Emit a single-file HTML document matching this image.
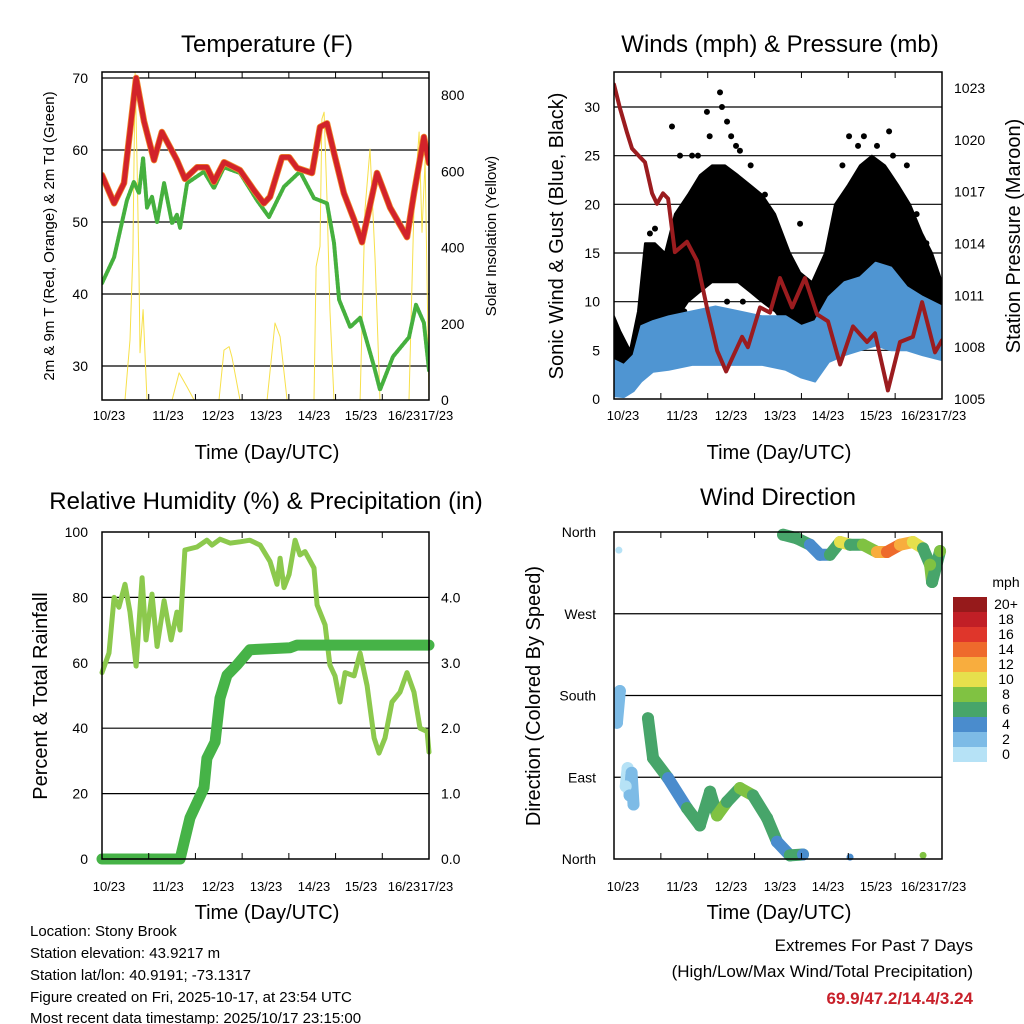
<!DOCTYPE html>
<html><head><meta charset="utf-8">
<style>
html,body{margin:0;padding:0;background:#fff;}
svg{display:block;font-family:"Liberation Sans",Arial,sans-serif;}
</style></head>
<body>
<svg id="chart" width="1024" height="1024" viewBox="0 0 1024 1024" xmlns="http://www.w3.org/2000/svg">
<rect x="0" y="0" width="1024" height="1024" fill="#fff"/>
<g id="layer"></g>
<text x="267" y="52" font-size="24" text-anchor="middle">Temperature (F)</text>
<text x="780" y="52" font-size="24" text-anchor="middle">Winds (mph) &amp; Pressure (mb)</text>
<text x="266" y="509" font-size="24" text-anchor="middle">Relative Humidity (%) &amp; Precipitation (in)</text>
<text x="778" y="505" font-size="24" text-anchor="middle">Wind Direction</text>
<text transform="translate(54,236) rotate(-90)" font-size="15" text-anchor="middle">2m &amp; 9m T (Red, Orange) &amp; 2m Td (Green)</text>
<text transform="translate(496,236) rotate(-90)" font-size="15" text-anchor="middle">Solar Insolation (Yellow)</text>
<text transform="translate(563,236) rotate(-90)" font-size="20" text-anchor="middle">Sonic Wind &amp; Gust (Blue, Black)</text>
<text transform="translate(1020,236) rotate(-90)" font-size="20" text-anchor="middle">Station Pressure (Maroon)</text>
<text transform="translate(47,696) rotate(-90)" font-size="20" text-anchor="middle">Percent &amp; Total Rainfall</text>
<text transform="translate(540,696) rotate(-90)" font-size="20" text-anchor="middle">Direction (Colored By Speed)</text>
<text x="267" y="459" font-size="20" text-anchor="middle">Time (Day/UTC)</text>
<text x="779" y="459" font-size="20" text-anchor="middle">Time (Day/UTC)</text>
<text x="267" y="919" font-size="20" text-anchor="middle">Time (Day/UTC)</text>
<text x="779" y="919" font-size="20" text-anchor="middle">Time (Day/UTC)</text>
<g font-size="15">
<text x="30" y="936">Location: Stony Brook</text>
<text x="30" y="958">Station elevation: 43.9217 m</text>
<text x="30" y="980">Station lat/lon: 40.9191; -73.1317</text>
<text x="30" y="1002">Figure created on Fri, 2025-10-17, at 23:54 UTC</text>
<text x="30" y="1023">Most recent data timestamp: 2025/10/17 23:15:00</text>
</g>
<text x="973" y="951" font-size="17" text-anchor="end">Extremes For Past 7 Days</text>
<text x="973" y="977" font-size="17" text-anchor="end">(High/Low/Max Wind/Total Precipitation)</text>
<text x="973" y="1004" font-size="17" font-weight="bold" fill="#c8202a" text-anchor="end">69.9/47.2/14.4/3.24</text>
</svg>
<script>
// ---------- DATA ----------
const dayLabels = ["10/23","11/23","12/23","13/23","14/23","15/23","16/23","17/23"];
const tempHours = [0,6.2,11.3,17.5,21.6,26.7,30.8,38.5,42.6,48.8,53.9,57.5,62.7,70.9,78.1,83.2,86.3,92.5,96.1,100.2,107.9,112,115.6,119.2,124.3,129.5,133.6,141.3,148,156.7,160.3,165.4,168];
const tempF = [56.5,52.6,55.4,70,64,58.6,62.5,58.6,56,57.6,57.6,55.6,58.3,57.2,54.4,52.6,53.5,59,59,57.5,56.8,63.2,63.7,59.6,54,50.3,47.2,56.8,52,47.9,54,61.8,58.2];
const dewHours = [0,6.2,12.8,16.4,19,21.1,23.1,25.7,28.3,31.9,36,38.5,40.1,43.7,52.4,57.5,62.7,70.9,79.7,85.8,93.5,101.7,108.9,115.6,119.2,121.8,127.5,132.6,139.8,142.8,149.5,157.7,161.3,165.4,168];
const dewF = [41.5,45.1,53,55.6,54,58.9,52,53.5,50,55.4,49.8,51,49.2,55.4,57,54.7,57.6,56.8,53,50.7,54.9,57,53.3,52.6,47.1,39.2,35.4,36.7,29.9,26.7,31.3,34,38.5,36,29.4];
const solarHours = [11.8,14.4,15.9,17,18,19,19.5,21.1,23.1,36,39.6,43.7,47.3,60.1,62.7,65.3,66.8,70.9,84.8,88.9,91.5,95.1,108.9,110,112,113,114.1,115.6,117.1,119.2,132.6,135.1,137.7,140.3,142.8,157.7,160.3,162.9,164.4,166,168];
const solarWm2 = [0,158,386,860,630,334,124,237,0,0,71,34,0,0,131,140,112,0,0,202,166,0,0,350,403,737,755,526,237,0,0,500,658,368,0,0,508,703,440,630,0];
const presHours = [0,3.1,6.7,9.2,13.3,15.9,19.5,22,25.1,27.7,31.2,37.4,42.5,47.6,52.8,57.4,65.6,68.6,74.8,79.9,85,91.2,97.8,104,109.6,115.8,122.4,129.6,133.7,140.3,146.5,153.1,157.8,164.4,168];
const presMb = [1023.2,1021.8,1020.4,1019.5,1019,1018.7,1016.9,1016.3,1016.9,1016.6,1013.5,1014.1,1013,1010.3,1007.8,1006.6,1008.6,1008,1010.3,1010,1012,1010.3,1012,1009.9,1009.5,1007,1009.2,1008.3,1008.8,1005.5,1008.3,1008.6,1010.6,1007.7,1008.4];
const gustHours = [0,3.1,8.2,12.3,15.9,21,26.1,31.2,37.9,44,50.2,56.9,63.5,69.7,75.8,82.5,90.1,95.3,101.4,108.1,113.2,119.9,126,132.1,138.8,145.5,151.6,157.8,162.9,168];
const gustLow = [2,1.5,1.5,3,5,5,6,8,10,11,12,12,12,11,10,9,7,5,4,6,9,11,12,13,13,12,10,9,7,6];
const gustHigh = [8.5,7,5,9,16,16,15,19,21,23,24,24,23,22,21,19,15,13,12,15,20,22,24,25,24,22,20,17,15,12];
const gustOutHours = [29.7,33.8,47.6,54.3,55.3,57.9,62.5,43,64.5,77.3,95.3,120.4,134.7,140.9,142.9,78.9,57.9,44,18.4,21,49,60,70,85,125,130,150,155,36,40,66,88,117,128,146,160];
const gustOutMph = [28,25,29.5,31.5,30,28.5,26,25,25.5,21,18,27,26,27.5,25,8,10,12,17,17.5,27,27,24,17,26,11,24,19,9,25,10,5,24,27,9,16];
const windHours = [0,5,10,14,20,28,40,52,64,76,88,96,103,110,118,126,134,142,150,158,168];
const windLow = [0.3,0.2,0.8,1.8,2.8,3,3.5,3.5,3.5,3.5,3,2.2,1.8,3.8,4.5,5,5.5,5,5,4.5,4];
const windHigh = [4,3.5,4.5,7.5,8,8.5,9,9.5,9,8.5,8.5,7.5,8,10.5,12,12.5,14,13.5,11.5,10.5,9.5];
const rhHours = [0,3.6,6.2,8.7,11.8,14.4,17.5,20.6,22.6,25.7,28.3,31.9,35.5,38.5,40.1,42.6,48.8,53.9,56.5,60.6,65.8,70.9,76,81.2,86.3,89.9,91.5,93.5,96.1,99.2,101.7,104.3,108.9,110.5,114.6,117.1,119.7,122.3,124.9,129.5,132.6,136.2,139.8,142.3,145.4,149,153.1,156.7,160.3,163.4,167,168];
const rhPct = [57,63,80,77,84,75.5,59,86,67,81,65,79,67,75.5,70,94.5,95.4,97.5,96,97.8,96.6,97,97.5,96,91,84,92,83,87,97.5,93,94,89,77.7,71.6,59.3,56,48,57,56,63,53,37,32.4,37,48,51,57,51,40,39,32.7];
const rainHours = [0,40.1,45.2,52.4,53.9,58.1,60.6,64.2,69.4,76,96.6,100.2,168];
const rainIn = [0,0,0.63,1.09,1.54,1.79,2.46,2.81,2.97,3.2,3.23,3.27,3.27];
const dirSEHours = [0,1.5,3,6,7,8,9,10,17.4,20,27.7,37.4,44,49.2,52.8,57.9,64.5,71.2,78.4,83.5,90.1,96.8];
const dirSEDeg = [170,150,185,80,100,70,95,60,155,111,89,56,37,74,48,63,78,70,45,19,4,5];
const dirSESpd = [2,2,2,0,0,1,2,2,6,6,4,6,6,6,8,6,8,6,6,4,6,4];
const dirNHours = [86.6,93.7,100.4,105.5,110.6,115.8,120.9,127.5,134.7,139.8,146.5,153.1,158.3,161.9,162.9,167];
const dirNDeg = [357,353,346,335,335,349,346,346,338,338,346,349,342,324,305,339];
const dirNSpd = [6,6,4,4,6,10,6,8,12,14,12,10,6,8,6,8];
const dirLoneHours = [120.9,158.3,2.5];
const dirLoneDeg = [2,4,340];
const dirLoneSpd = [4,8,0];
const tempTicks = [30,40,50,60,70];
const solarTicks = [0,200,400,600,800];
const windTicks = [0,5,10,15,20,25,30];
const presTicks = [1005,1008,1011,1014,1017,1020,1023];
const rhTicks = [0,20,40,60,80,100];
const rainTicks = ["0.0","1.0","2.0","3.0","4.0"];
const dirTicks = ["North","East","South","West","North"];
const speedBins = ["0","2","4","6","8","10","12","14","16","18","20+"];
const speedColors = ["#b6e2f6","#7dbbe6","#4a8ccd","#47a56a","#80c242","#e6e04c","#f8ad3e","#ee6a2c","#df362b","#c11f26","#961a1b"];

// ---------- HELPERS ----------
const NS="http://www.w3.org/2000/svg";
const layer=document.getElementById('layer');
function mk(tag,attrs,parent){const e=document.createElementNS(NS,tag);for(const k in attrs)e.setAttribute(k,attrs[k]);(parent||layer).appendChild(e);return e;}
function panelX(x0,x1){return h=>x0+(h/168)*(x1-x0);}
function lin(v0,v1,p0,p1){return v=>p0+(v-v0)/(v1-v0)*(p1-p0);}
function pts(hs,vs,sx,sy){return hs.map((h,i)=>sx(h).toFixed(1)+","+sy(vs[i]).toFixed(1)).join(" ");}
function clip(id,x,y,w,h){const c=mk('clipPath',{id:id});mk('rect',{x:x,y:y,width:w,height:h},c);return "url(#"+id+")";}
function spdColor(s){let i=Math.round(s/2);if(i<0)i=0;if(i>10)i=10;return speedColors[i];}

function frame(name,x0,y0,x1,y1,labelXs,ly){
  const g=mk('g',{});
  
  
  for(let i=0;i<=7;i++){
    const x=x0+i*(x1-x0)/7;
    const t1=mk('line',{x1:x,y1:y0,x2:x,y2:y0+6,stroke:'#000','stroke-width':1},g);
    
    
    const t2=mk('line',{x1:x,y1:y1,x2:x,y2:y1-6,stroke:'#000','stroke-width':1},g);
    
    
    const tx=mk('text',{x:labelXs[i],y:ly,'font-size':13,'text-anchor':'middle'},g);
    tx.textContent=dayLabels[i];
    
    
  }
  const r=mk('rect',{x:x0,y:y0,width:x1-x0,height:y1-y0,fill:'none',stroke:'#000','stroke-width':1.5});
  
  
}
function grid(x0,x1,y,name){
  const l=mk('line',{x1:x0,y1:y,x2:x1,y2:y,stroke:'#000','stroke-width':1.2});
  
  
}
function ylab(x,y,txt,anchor,name){
  const t=mk('text',{x:x,y:y+5,'font-size':14,'text-anchor':anchor});
  t.textContent=txt;
  
  
}
function poly(p,stroke,w,cp,name,extra){
  const e=mk('polyline',Object.assign({points:p,fill:'none',stroke:stroke,'stroke-width':w,'stroke-linejoin':'round','stroke-linecap':'round','clip-path':cp},extra||{}));
  
  
  return e;
}

// ---------- PANEL 1: TEMPERATURE ----------
{
  const X0=102,X1=429,Y0=72,Y1=400;
  const sx=panelX(X0,X1), sy=lin(30,70,366,78), ss=lin(0,800,400,95);
  const cp=clip('c1',X0,Y0,X1-X0,Y1-Y0);
  tempTicks.forEach(v=>{grid(X0,X1,sy(v),'temp-gridline');ylab(X0-14,sy(v),String(v),'end','temp-y-tick-label');});
  solarTicks.forEach(v=>ylab(X1+12,ss(v),String(v),'start','solar-y-tick-label'));
  poly(pts(solarHours,solarWm2,sx,ss),'#f7e04a',1,cp,'solar-line');
  poly(pts(dewHours,dewF,sx,sy),'#45b03e',4,cp,'dewpoint-line',{'stroke-dasharray':'2.5 1.5'});
  poly(pts(tempHours,tempF,sx,sy),'#f08a2a',6.5,cp,'temp-9m-line');
  poly(pts(tempHours,tempF,sx,sy),'#d2232a',5,cp,'temp-2m-line');
  frame('temperature',X0,Y0,X1,Y1,[109,168,218,266,314,361,404,437],420);
}
// ---------- PANEL 2: WINDS ----------
{
  const X0=614,X1=942,Y0=72,Y1=399;
  const sx=panelX(X0,X1), sy=lin(0,30,399,107), sp=lin(1005,1023,399,88);
  const cp=clip('c2',X0,Y0,X1-X0,Y1-Y0);
  windTicks.forEach(v=>{if(v>0)grid(X0,X1,sy(v),'wind-gridline');ylab(X0-14,sy(v),String(v),'end','wind-y-tick-label');});
  presTicks.forEach(v=>ylab(X1+12,sp(v),String(v),'start','pressure-y-tick-label'));
  const gp=gustHours.map((h,i)=>sx(h).toFixed(1)+","+sy(gustHigh[i]).toFixed(1)).concat(gustHours.slice().reverse().map((h,j)=>{const i=gustHours.length-1-j;return sx(h).toFixed(1)+","+sy(gustLow[i]).toFixed(1);})).join(" ");
  const gb=mk('polygon',{points:gp,fill:'#000',stroke:'#000','stroke-width':2,'stroke-linejoin':'round','clip-path':cp});
  
  
  gustOutHours.forEach((h,i)=>{
    const c=mk('circle',{cx:sx(h),cy:sy(gustOutMph[i]),r:3,fill:'#000','clip-path':cp});
    
    
  });
  const wp=windHours.map((h,i)=>sx(h).toFixed(1)+","+sy(windHigh[i]).toFixed(1)).concat(windHours.slice().reverse().map((h,j)=>{const i=windHours.length-1-j;return sx(h).toFixed(1)+","+sy(windLow[i]).toFixed(1);})).join(" ");
  const wb=mk('polygon',{points:wp,fill:'#4f95d2',stroke:'#4f95d2','stroke-width':2,'stroke-linejoin':'round','clip-path':cp});
  
  
  poly(pts(presHours,presMb,sx,sp),'#9b1c1f',4,cp,'pressure-line');
  frame('winds',X0,Y0,X1,Y1,[623,682,731,780,828,876,917,950],420);
}
// ---------- PANEL 3: RH & PRECIP ----------
{
  const X0=102,X1=429,Y0=532,Y1=859;
  const sx=panelX(X0,X1), sy=lin(0,100,859,532), sr=lin(0,5,859,532);
  const cp=clip('c3',X0-8,Y0,X1-X0+16,Y1-Y0+8);
  rhTicks.forEach(v=>{if(v>0&&v<100)grid(X0,X1,sy(v),'rh-gridline');ylab(X0-14,sy(v),String(v),'end','rh-y-tick-label');});
  rainTicks.forEach(v=>ylab(X1+12,sr(parseFloat(v)),v,'start','rain-y-tick-label'));
  poly(pts(rhHours,rhPct,sx,sy),'#8cc94d',5,cp,'humidity-line');
  poly(pts(rainHours,rainIn,sx,sr),'#46b347',11,cp,'rainfall-line');
  frame('humidity',X0,Y0,X1,Y1,[109,168,218,266,314,361,404,437],891);
}
// ---------- PANEL 4: WIND DIRECTION ----------
{
  const X0=614,X1=942,Y0=532,Y1=859;
  const sx=panelX(X0,X1), sy=lin(0,360,859,532);
  const cp=clip('c4',X0,Y0-6,X1-X0+6,Y1-Y0+12);
  dirTicks.forEach((t,i)=>{const y=sy(i*90);if(i>0&&i<4)grid(X0,X1,y,'direction-gridline');ylab(X0-18,y,t,'end','direction-y-tick-label');});
  function series(hs,ds,ss,name){
    for(let i=0;i<hs.length-1;i++){
      if(Math.abs(ds[i+1]-ds[i])>45) continue;
      const l=mk('line',{x1:sx(hs[i]),y1:sy(ds[i]),x2:sx(hs[i+1]),y2:sy(ds[i+1]),stroke:spdColor(ss[i]),'stroke-width':12,'stroke-linecap':'round','clip-path':cp});
      
      
    }
    hs.forEach((h,i)=>{
      const c=mk('circle',{cx:sx(h),cy:sy(ds[i]),r:6,fill:spdColor(ss[i]),'clip-path':cp});
      
      
    });
  }
  series(dirSEHours,dirSEDeg,dirSESpd,'direction-east');
  series(dirNHours,dirNDeg,dirNSpd,'direction-north');
  dirLoneHours.forEach((h,i)=>{
    const c=mk('circle',{cx:sx(h),cy:sy(dirLoneDeg[i]),r:3.5,fill:spdColor(dirLoneSpd[i]),'clip-path':cp});
    
    
  });
  frame('direction',X0,Y0,X1,Y1,[623,682,731,780,828,876,917,950],891);
  const cb=mk('g',{});
  
  
  const mt=mk('text',{x:1006,y:587,'font-size':14,'text-anchor':'middle'},cb);
  mt.textContent='mph';
  
  
  for(let i=0;i<speedBins.length;i++){
    const k=speedBins.length-1-i, y=597+i*15;
    const r=mk('rect',{x:953,y:y,width:34,height:15,fill:speedColors[k]},cb);
    
    
    const t=mk('text',{x:1006,y:y+12,'font-size':14,'text-anchor':'middle'},cb);
    t.textContent=speedBins[k];
    
    
  }
}
</script>
</body></html>
